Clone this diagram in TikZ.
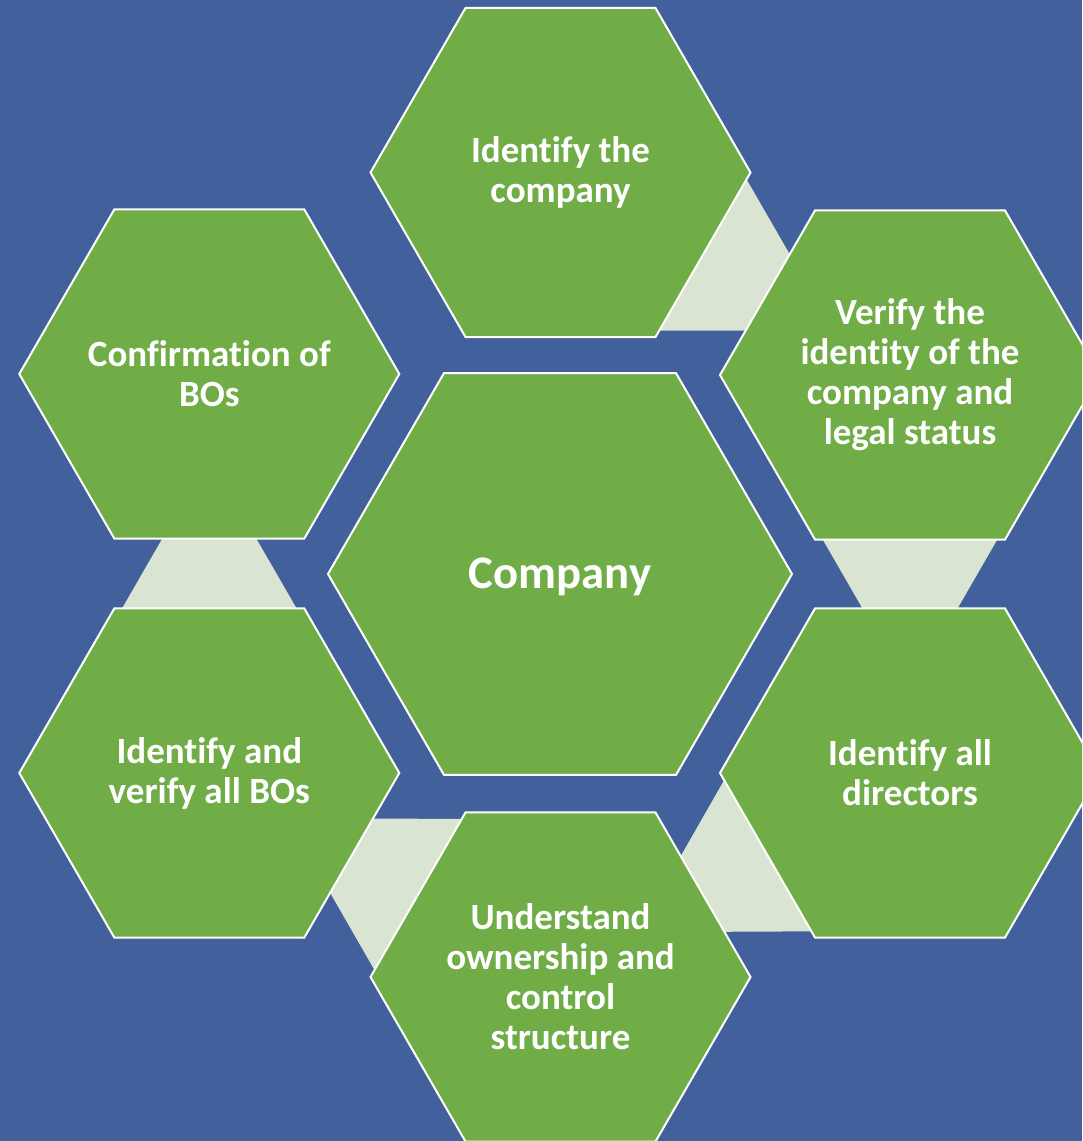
\documentclass[tikz,border=0pt]{standalone}
\usepackage{fontspec}
\setmainfont{Carlito}[Ligatures=NoCommon]
\usetikzlibrary{calc}
\pgfdeclarelayer{back}
\pgfsetlayers{back,main}
\definecolor{bgblue}{HTML}{42609B}
\definecolor{hexgreen}{HTML}{70AD47}
\definecolor{connfill}{HTML}{D9E4D2}
\tikzset{
  hexlabel/.style={text=white, align=center, inner sep=0pt,
    font=\fontsize{27.75pt}{30pt}\selectfont\bfseries},
  biglabel/.style={hexlabel, font=\fontsize{35pt}{38pt}\selectfont\bfseries},
  hexfill/.style={fill=hexgreen, draw=white, line width=1.5pt, line join=miter},
  connshape/.style={fill=connfill},
}
\begin{document}
\begin{tikzpicture}[x=0.75pt,y=-0.75pt]
\useasboundingbox (0,0) rectangle (1082,1141);
% text nodes
\node[hexlabel] (top) at (560.5,172.5) {Identify the\\company};
\node[hexlabel] (rt)  at (910,375) {Verify the\\identity of the\\company and\\legal status};
\node[hexlabel] (rb)  at (910,773) {Identify all\\directors};
\node[hexlabel] (bot) at (560.5,977) {Understand\\ownership and\\control\\structure};
\node[hexlabel] (lb)  at (209.3,773) {Identify and\\verify all BOs};
\node[hexlabel] (lt)  at (209.3,374) {Confirmation of\\BOs};
\coordinate (midc) at (560,574);
\node[biglabel, yshift=-2.25pt] (mid) at (midc) {Company};
\begin{pgfonlayer}{back}
  \clip (0,0) rectangle (1082,1141);
  \fill[bgblue] (0,0) rectangle (1082,1141);
  % connectors
  \foreach \a/\b in {top/rt,rt/rb,rb/bot,bot/lb,lb/lt}{
    \coordinate (n1) at ($(\a.center)!105pt!(\b.center)$);
    \coordinate (n2) at ($(\a.center)!196.5pt!(\b.center)$);
    \fill[connshape] ($(n1)!76.1pt!90:(\b.center)$) -- ($(n2)!23.3pt!90:(\b.center)$)
      -- ($(n2)!23.3pt!-90:(\b.center)$) -- ($(n1)!76.1pt!-90:(\b.center)$) -- cycle;
  }
  % hexagons
  \foreach \n in {top,rt,rb,bot,lb,lt}{
    \path[hexfill, shift={(\n.center)}] (0:190) -- (60:190) -- (120:190)
      -- (180:190) -- (240:190) -- (300:190) -- cycle;
  }
  \path[hexfill, shift={(midc)}] (0:232) -- (60:232) -- (120:232)
      -- (180:232) -- (240:232) -- (300:232) -- cycle;
\end{pgfonlayer}
\end{tikzpicture}
\end{document}
